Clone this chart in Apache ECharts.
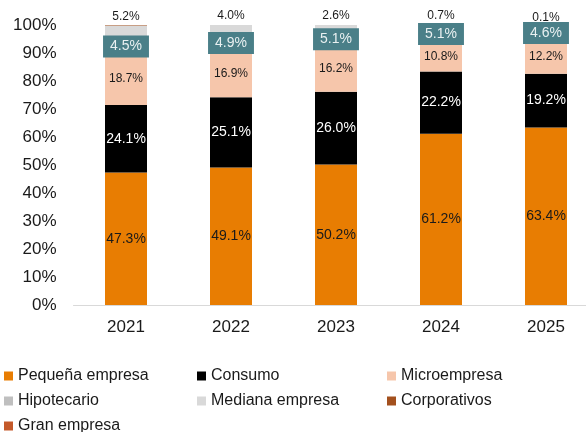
<!DOCTYPE html>
<html>
<head>
<meta charset="utf-8">
<script src="https://cdn.jsdelivr.net/npm/echarts@6/dist/echarts.min.js"></script>
<style>
  html, body { margin: 0; padding: 0; background: #ffffff; }
  #chart { width: 586px; height: 432px; }
</style>
</head>
<body>
<div id="chart"></div>
<script>
// Loan portfolio composition by segment, share of total (%)
const years = ['2021', '2022', '2023', '2024', '2025'];
const pequenaEmpresa = [47.3, 49.1, 50.2, 61.2, 63.4];
const consumo = [24.1, 25.1, 26.0, 22.2, 19.2];
const microempresa = [18.7, 16.9, 16.2, 10.8, 12.2];
const hipotecario = [4.5, 4.9, 5.1, 5.1, 4.6];
const medianaEmpresa = [5.2, 4.0, 2.6, 0.7, 0.1];
const corporativos = [0.2, 0, 0, 0, 0];
const granEmpresa = [0, 0, 0, 0, 0];
const yTicks = [0, 10, 20, 30, 40, 50, 60, 70, 80, 90, 100];

const FONT = "'Liberation Sans', Arial, sans-serif";
const pct = p => p.value.toFixed(1) + '%';

function stackBar(name, data, color, label) {
  return {
    name: name,
    type: 'bar',
    stack: 'total',
    barWidth: '40%',
    data: data,
    itemStyle: { color: color },
    label: Object.assign({ show: false, fontFamily: FONT, formatter: pct }, label || {})
  };
}

const chart = echarts.init(document.getElementById('chart'));
const legendText = { fontFamily: FONT, fontSize: 16, color: '#1a1a1a', lineHeight: 16 };
const legendBase = {
  orient: 'vertical',
  top: 368,
  height: 120,
  padding: 0,
  itemWidth: 9,
  itemHeight: 9,
  itemGap: 9,
  icon: 'rect',
  textStyle: legendText,
  selectedMode: false
};

chart.setOption({
  animation: false,
  backgroundColor: '#ffffff',
  // plot area runs a little past the right edge of the canvas
  grid: { left: 73.5, width: 525, top: 25, height: 280, outerBoundsMode: 'none' },
  legend: [
    Object.assign({ left: 4, data: ['Pequeña empresa', 'Hipotecario', 'Gran empresa'] }, legendBase),
    Object.assign({ left: 197, data: ['Consumo', 'Mediana empresa'] }, legendBase),
    Object.assign({ left: 387, data: ['Microempresa', 'Corporativos'] }, legendBase)
  ],
  xAxis: {
    type: 'category',
    data: years,
    axisLine: { lineStyle: { color: '#d9d9d9', width: 1 } },
    axisTick: { show: false },
    axisLabel: { fontFamily: FONT, fontSize: 17, color: '#1a1a1a', margin: 14 }
  },
  yAxis: {
    type: 'value',
    min: yTicks[0],
    max: yTicks[yTicks.length - 1],
    interval: yTicks[1] - yTicks[0],
    splitLine: { show: false },
    axisLine: { show: false },
    axisTick: { show: false },
    axisLabel: { fontFamily: FONT, fontSize: 17, color: '#1a1a1a', margin: 17, formatter: '{value}%' }
  },
  series: [
    stackBar('Pequeña empresa', pequenaEmpresa, '#e87d02',
      { show: true, position: 'inside', fontSize: 14, color: '#1a1a1a' }),
    stackBar('Consumo', consumo, '#000000',
      { show: true, position: 'inside', fontSize: 14, color: '#ffffff' }),
    stackBar('Microempresa', microempresa, '#f6c6ab',
      { show: true, position: 'inside', fontSize: 12, color: '#1a1a1a' }),
    stackBar('Hipotecario', hipotecario, '#bfbfbf',
      { show: true, position: 'inside', fontSize: 14, color: '#e9f0f1',
        backgroundColor: '#4a7f88', padding: [4, 7] }),
    stackBar('Mediana empresa', medianaEmpresa, '#d9d9d9',
      { show: true, position: 'top', distance: 3, fontSize: 12, color: '#1a1a1a' }),
    stackBar('Corporativos', corporativos, '#a3501e'),
    stackBar('Gran empresa', granEmpresa, '#c4592a')
  ]
});
</script>
</body>
</html>
